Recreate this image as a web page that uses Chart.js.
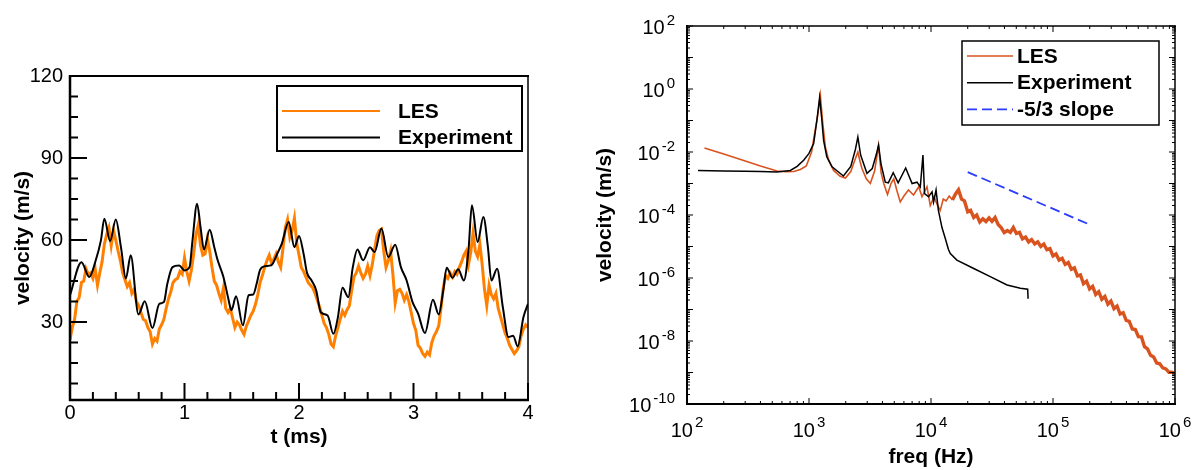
<!DOCTYPE html>
<html>
<head>
<meta charset="utf-8">
<title>LES vs experiment velocity</title>
<script src="https://cdn.jsdelivr.net/npm/chart.js@4.4.1/dist/chart.umd.min.js"></script>
<style>
  body { margin: 0; background: #fff; }
  #wrap { position: relative; width: 1198px; height: 470px; overflow: hidden; }
  canvas { position: absolute; top: 0; }
  #timeChart { left: 0; }
  #specChart { left: 560px; }
</style>
</head>
<body>
<div id="wrap">
  <canvas id="timeChart" width="560" height="470"></canvas>
  <canvas id="specChart" width="638" height="470"></canvas>
</div>
<script>
// ---- left panel: velocity signal ----
const timeTickLabels = [0, 1, 2, 3, 4];
const velTickLabels = [30, 60, 90, 120];

const lesTime = [
  0.00,0.02,0.04,0.06,0.08,0.10,0.12,0.14,0.16,0.18,
  0.20,0.22,0.24,0.26,0.28,0.30,0.32,0.34,0.36,0.38,
  0.40,0.42,0.44,0.46,0.48,0.50,0.52,0.54,0.56,0.58,
  0.60,0.62,0.64,0.66,0.68,0.70,0.72,0.74,0.76,0.78,
  0.80,0.82,0.84,0.86,0.88,0.90,0.92,0.94,0.96,0.98,
  1.00,1.02,1.04,1.06,1.08,1.10,1.12,1.14,1.16,1.18,
  1.20,1.22,1.24,1.26,1.28,1.30,1.32,1.34,1.36,1.38,
  1.40,1.42,1.44,1.46,1.48,1.50,1.52,1.54,1.56,1.58,
  1.60,1.62,1.64,1.66,1.68,1.70,1.72,1.74,1.76,1.78,
  1.80,1.82,1.84,1.86,1.88,1.90,1.92,1.94,1.96,1.98,
  2.00,2.02,2.04,2.06,2.08,2.10,2.12,2.14,2.16,2.18,
  2.20,2.22,2.24,2.26,2.28,2.30,2.32,2.34,2.36,2.38,
  2.40,2.42,2.44,2.46,2.48,2.50,2.52,2.54,2.56,2.58,
  2.60,2.62,2.64,2.66,2.68,2.70,2.72,2.74,2.76,2.78,
  2.80,2.82,2.84,2.86,2.88,2.90,2.92,2.94,2.96,2.98,
  3.00,3.02,3.04,3.06,3.08,3.10,3.12,3.14,3.16,3.18,
  3.20,3.22,3.24,3.26,3.28,3.30,3.32,3.34,3.36,3.38,
  3.40,3.42,3.44,3.46,3.48,3.50,3.52,3.54,3.56,3.58,
  3.60,3.62,3.64,3.66,3.68,3.70,3.72,3.74,3.76,3.78,
  3.80,3.82,3.84,3.86,3.88,3.90,3.92,3.94,3.96,3.98,
  4.00
];
const lesVelocity = [
  23.5,28.0,31.0,37.5,39.0,44.5,45.0,49.5,47.5,48.0,
  46.0,49.5,43.5,48.0,52.0,58.5,62.0,64.5,58.0,63.5,
  60.0,56.0,52.5,48.0,45.5,43.0,44.5,40.5,42.0,37.5,
  36.0,33.5,31.0,30.5,28.0,26.5,22.0,24.0,23.0,27.5,
  29.0,31.0,35.0,38.5,41.0,44.5,45.5,46.0,48.5,47.5,
  53.5,48.5,45.0,49.0,55.0,62.0,65.5,58.0,54.5,55.0,
  60.5,56.0,50.0,45.0,43.5,40.5,38.0,42.5,35.0,33.5,
  35.0,31.5,28.0,30.0,29.0,27.0,25.5,28.5,30.5,32.5,
  34.0,36.5,40.0,44.5,47.0,50.0,52.5,54.5,51.5,53.0,
  55.0,52.0,50.0,57.0,64.5,67.5,61.0,63.5,68.0,59.0,
  54.5,50.0,48.5,46.5,44.5,43.5,42.5,40.5,38.0,35.5,
  32.5,29.5,28.0,25.5,22.0,21.0,25.0,28.0,31.0,34.0,
  32.5,34.5,36.0,41.5,46.5,48.0,50.5,48.0,46.0,47.5,
  50.5,47.0,51.0,56.5,61.5,63.5,64.0,56.0,50.0,52.5,
  56.0,47.5,37.0,41.5,42.0,40.5,38.0,40.0,37.5,33.5,
  29.5,27.0,21.5,20.5,18.5,17.5,19.0,18.0,22.5,25.0,
  26.5,28.5,35.0,42.5,47.0,46.0,48.0,46.5,48.5,47.5,
  50.0,52.0,54.5,56.0,51.0,55.5,62.5,56.0,54.0,58.5,
  51.0,42.0,36.0,43.5,40.0,38.5,40.5,35.0,32.0,29.0,
  26.0,24.0,21.5,20.0,18.5,19.5,21.0,25.0,27.5,29.0,
  28.0
];

const expTime = [
  0,0.1,0.168,0.225,0.27,0.3,0.35,0.4,0.445,0.488,
  0.53,0.598,0.653,0.72,0.78,0.82,0.85,0.895,0.954,1.0,
  1.044,1.07,1.11,1.14,1.17,1.22,1.26,1.29,1.34,1.38,
  1.41,1.45,1.51,1.56,1.6,1.63,1.66,1.7,1.76,1.81,
  1.85,1.91,1.96,2.0,2.04,2.07,2.11,2.15,2.19,2.25,
  2.3,2.34,2.38,2.43,2.47,2.51,2.56,2.62,2.66,2.72,
  2.78,2.84,2.89,2.94,2.99,3.04,3.1,3.17,3.22,3.26,
  3.29,3.34,3.39,3.44,3.48,3.51,3.56,3.61,3.65,3.68,
  3.73,3.78,3.83,3.87,3.91,3.96,4.0
];
const expVelocity = [
  39.8,51.9,46.5,52.6,59.9,67.8,59.6,67.5,57.4,45.9,
  54.4,32.8,37.6,27.8,36.7,37.3,44.0,50.1,50.7,48.9,
  50.1,59.9,73.3,64.7,56.5,63.8,57.4,52.6,46.5,39.1,
  34.3,39.4,28.8,39.8,40.1,44.0,49.1,50.4,50.8,55.0,
  58.7,66.6,57.4,61.5,55.0,48.0,45.2,41.6,33.6,32.4,
  25.7,31.8,42.6,39.1,50.1,56.5,52.6,57.4,55.6,64.2,
  53.8,58.3,50.1,45.2,37.5,33.1,26.0,38.2,32.8,41.6,
  49.9,46.2,49.3,45.2,56.2,72.7,59.3,68.4,57.4,45.2,
  49.5,35.5,24.5,25.0,21.1,31.8,36.7
];

// ---- right panel: spectrum ----
const freqExponents = [2, 3, 4, 5, 6];
const specExponents = [2, 0, -2, -4, -6, -8, -10];

const lesFreq = [
  139,200,300,400,547,650,750,850,950,1050,
  1100,1180,1239,1290,1361,1450,1590,1800,1990,2200,
  2325,2515,2620,2717,2950,3180,3450,3715,3900,4100,
  4400,4700,4950,5250,5600,6000,6530,7190,7940,8440,
  9270,9860,
  10600,11200,11900,12600,13300,14100,15000,15800,16800,17800,
  18800,20000,21100,22400,23700,25100,26600,28200,29900,31600,
  33500,35500,37600,39800,42200,44700,47300,50100,53100,56200,
  59600,63100,66800,70800,75000,79400,84100,89100,94400,100000,
  105900,112200,118900,125900,133400,141300,149600,158500,167900,177800,
  188400,199500,211300,223900,237100,251200,266100,281800,298500,316200,
  335000,354800,375800,398100,421700,446700,473200,501200,530900,562300,
  595700,631000,668300,707900,749900,794300,841400,891300,944100,1000000
];
const lesSpectrum = [
  1.35e-2,8.6e-3,5.2e-3,3.6e-3,2.5e-3,2.35e-3,2.4e-3,2.8e-3,3.6e-3,1.0e-2,
  3.0e-2,0.15,0.63,0.1,1.45e-2,5.5e-3,2.6e-3,1.7e-3,1.5e-3,2.4e-3,
  4.4e-3,1.0e-2,5.0e-3,3.0e-3,1.4e-3,1.0e-3,2.5e-3,1.58e-2,2.2e-3,1.0e-3,
  4.5e-4,1.0e-3,1.4e-3,6.0e-4,2.6e-4,4.0e-4,6.2e-4,4.3e-4,7.9e-4,3.8e-4,
  7.9e-4,2.0e-4,
  3.8e-4,2.2e-4,1.4e-4,3.2e-4,2.8e-4,4.0e-4,3.0e-4,4.5e-4,6.3e-4,3.2e-4,
  2.8e-4,1.26e-4,1.4e-4,8.3e-5,1.0e-4,6.0e-5,7.6e-5,6.2e-5,8.1e-5,6.3e-5,
  8.3e-5,5.0e-5,4.0e-5,2.75e-5,3.2e-5,2.8e-5,4.0e-5,2.6e-5,2.8e-5,1.74e-5,
  2.0e-5,1.4e-5,1.66e-5,1.2e-5,1.4e-5,1.0e-5,1.2e-5,7.9e-6,8.5e-6,5.0e-6,
  5.8e-6,3.7e-6,4.2e-6,2.7e-6,3.1e-6,1.9e-6,2.1e-6,1.17e-6,1.26e-6,6.6e-7,
  7.9e-7,4.5e-7,5.4e-7,3.0e-7,3.7e-7,2.1e-7,2.6e-7,1.48e-7,1.86e-7,1.07e-7,
  1.29e-7,7.2e-8,7.9e-8,4.5e-8,4.2e-8,2.4e-8,2.3e-8,1.38e-8,1.35e-8,6.6e-9,
  5.6e-9,3.5e-9,3.1e-9,2.0e-9,1.9e-9,1.4e-9,1.3e-9,1.02e-9,1.02e-9,9.3e-10
];

const expFreq = [
  123,200,300,400,547,703,800,904,1000,1092,
  1160,1222,1270,1318,1400,1545,1915,2200,2400,2515,
  2650,2985,3300,3550,3715,3900,4220,4470,4900,5380,
  6200,7000,7680,8170,8590,8850,9550,10200,10500,11000,
  11500,12300,13100,13900,14400,16300,22400,30600,42000,54000,
  62000,62500
];
const expSpectrum = [
  2.6e-3,2.5e-3,2.45e-3,2.4e-3,2.3e-3,2.6e-3,3.5e-3,5.5e-3,9e-3,1.86e-2,
  0.1,0.54,0.12,2.3e-2,7e-3,3.4e-3,1.73e-3,3.5e-3,1.2e-2,3e-2,
  8e-3,2.1e-3,3e-3,8e-3,1.65e-2,4e-3,1.1e-3,1.05e-3,2.2e-3,1.05e-3,
  3.1e-3,1e-3,1.1e-3,7.8e-4,8e-3,4.8e-4,3.8e-4,5.4e-4,2.6e-4,6.2e-4,
  1.4e-4,4e-5,1.8e-5,8e-6,6e-6,3.7e-6,2.0e-6,1.1e-6,6e-7,4.7e-7,
  4.4e-7,2.2e-7
];

const slopeFreq = [20000, 200000];
const slopeSpectrum = [2.3e-3, 4.95e-5];

// ---- shared bits ----
const FAMILY = '"Liberation Sans", Arial, Helvetica, sans-serif';
const tickFont = '20px ' + FAMILY;
const expFont = '15px ' + FAMILY;
const boldFont = 'bold 21px ' + FAMILY;
Chart.defaults.font.family = FAMILY;
Chart.defaults.color = '#000';

function pairs(xs, ys) {
  return xs.map((x, i) => ({ x: x, y: ys[i] }));
}

function linearTicks(scale, majors, step, major, minor) {
  const out = [];
  for (let v = Math.ceil(scale.min / step - 1e-9) * step; v <= scale.max + 1e-9; v += step) {
    const isMajor = majors.some(m => Math.abs(m - v) < 1e-6);
    out.push([v, isMajor ? major : minor]);
  }
  return out;
}

function logTicks(scale, major, minor) {
  const out = [];
  const lo = Math.floor(Math.log10(scale.min));
  const hi = Math.ceil(Math.log10(scale.max));
  for (let e = lo; e <= hi; e++) {
    for (let k = 1; k <= 9; k++) {
      const v = k * Math.pow(10, e);
      if (v >= scale.min * 0.999 && v <= scale.max * 1.001) out.push([v, k === 1 ? major : minor]);
    }
  }
  return out;
}

// inward tick marks + plot frame (tecplot look)
const framePlugin = {
  id: 'frame',
  afterDatasetsDraw(chart, args, o) {
    const { ctx, chartArea: a } = chart;
    const x = chart.scales.x, y = chart.scales.y;
    const xt = o.log ? logTicks(x, o.major, o.minor) : linearTicks(x, o.xMajors, o.xStep, o.major, o.minor);
    const yt = o.log ? logTicks(y, o.major, o.minor) : linearTicks(y, o.yMajors, o.yStep, o.major, o.minor);
    ctx.save();
    ctx.strokeStyle = '#000';
    ctx.lineWidth = o.tickWidth;
    ctx.beginPath();
    xt.forEach(([v, len]) => {
      const p = x.getPixelForValue(v);
      ctx.moveTo(p, a.bottom); ctx.lineTo(p, a.bottom - len);
      if (o.mirror) { ctx.moveTo(p, a.top); ctx.lineTo(p, a.top + len); }
    });
    yt.forEach(([v, len]) => {
      const p = y.getPixelForValue(v);
      ctx.moveTo(a.left, p); ctx.lineTo(a.left + len, p);
      if (o.mirror) { ctx.moveTo(a.right, p); ctx.lineTo(a.right - len, p); }
    });
    ctx.stroke();
    const edge = (w, x1, y1, x2, y2) => {
      ctx.lineWidth = w;
      ctx.beginPath(); ctx.moveTo(x1, y1); ctx.lineTo(x2, y2); ctx.stroke();
    };
    edge(o.top, a.left - 1, a.top, a.right + 1, a.top);
    edge(o.right, a.right, a.top, a.right, a.bottom);
    edge(o.left, a.left, a.top - 1, a.left, a.bottom + 1);
    edge(o.bottom, a.left - 1, a.bottom, a.right + 1, a.bottom);
    ctx.restore();
  }
};

// boxed legend placed inside the plot
const boxLegend = {
  id: 'boxLegend',
  afterDraw(chart, args, o) {
    const ctx = chart.ctx;
    ctx.save();
    ctx.fillStyle = '#fff';
    ctx.fillRect(o.x, o.y, o.w, o.h);
    ctx.lineWidth = o.border;
    ctx.strokeStyle = '#000';
    ctx.strokeRect(o.x, o.y, o.w, o.h);
    chart.data.datasets.forEach((ds, i) => {
      const cy = o.y + o.firstRow + i * o.rowGap;
      ctx.beginPath();
      ctx.setLineDash(ds.borderDash || []);
      ctx.strokeStyle = ds.borderColor;
      ctx.lineWidth = o.lineWidth;
      ctx.moveTo(o.x + o.lineStart, cy);
      ctx.lineTo(o.x + o.lineEnd, cy);
      ctx.stroke();
      ctx.setLineDash([]);
      ctx.fillStyle = '#000';
      ctx.font = boldFont;
      ctx.textAlign = 'left';
      ctx.textBaseline = 'middle';
      ctx.fillText(ds.label, o.x + o.textStart, cy + 1);
    });
    ctx.restore();
  }
};

// 10^n labels for the log axes
const powerLabels = {
  id: 'powerLabels',
  afterDraw(chart) {
    const { ctx, chartArea: a } = chart;
    const x = chart.scales.x, y = chart.scales.y;
    ctx.save();
    ctx.fillStyle = '#000';
    ctx.textBaseline = 'middle';
    ctx.textAlign = 'left';
    freqExponents.forEach(e => {
      const p = x.getPixelForValue(Math.pow(10, e));
      ctx.font = tickFont; const w1 = ctx.measureText('10').width;
      ctx.font = expFont; const w2 = ctx.measureText(String(e)).width;
      const x0 = p - (w1 + 2 + w2) / 2;
      ctx.font = tickFont; ctx.fillText('10', x0, a.bottom + 27);
      ctx.font = expFont; ctx.fillText(String(e), x0 + w1 + 2, a.bottom + 19);
    });
    specExponents.forEach(e => {
      const p = y.getPixelForValue(Math.pow(10, e));
      ctx.font = expFont; const w2 = ctx.measureText(String(e)).width;
      ctx.font = tickFont; const w1 = ctx.measureText('10').width;
      const xr = a.left - 12;
      ctx.fillText('10', xr - w2 - 2 - w1, p + 2);
      ctx.font = expFont; ctx.fillText(String(e), xr - w2, p - 5);
    });
    ctx.restore();
  }
};

// ---- left chart ----
new Chart(document.getElementById('timeChart'), {
  type: 'line',
  data: {
    datasets: [
      { label: 'LES', data: pairs(lesTime, lesVelocity), borderColor: '#ff8000',
        borderWidth: 3, borderJoinStyle: 'miter', pointRadius: 0, tension: 0, order: 1 },
      { label: 'Experiment', data: pairs(expTime, expVelocity), borderColor: '#000',
        borderWidth: 2, pointRadius: 0, cubicInterpolationMode: 'monotone', order: 0 }
    ]
  },
  options: {
    responsive: false,
    animation: false,
    events: [],
    layout: { padding: { top: 76, right: 32, left: 0, bottom: 0 } },
    plugins: {
      legend: { display: false },
      tooltip: { enabled: false },
      frame: { log: false, xMajors: timeTickLabels, yMajors: velTickLabels, xStep: 0.2, yStep: 7.5,
               major: 17, minor: 8, tickWidth: 2, mirror: false,
               left: 2.5, bottom: 2.5, top: 2, right: 1.5 },
      boxLegend: { x: 277, y: 86, w: 245, h: 65, border: 2, firstRow: 25, rowGap: 26.6,
                   lineStart: 5, lineEnd: 103, textStart: 121, lineWidth: 2 }
    },
    scales: {
      x: {
        type: 'linear', min: 0, max: 4,
        afterBuildTicks: s => { s.ticks = timeTickLabels.map(v => ({ value: v })); },
        afterFit: s => { s.height = 70; },
        grid: { display: false, drawTicks: false },
        border: { display: false },
        ticks: { padding: 1, font: { size: 20 }, color: '#000', maxRotation: 0 },
        title: { display: true, text: 't (ms)', font: { size: 21, weight: 'bold' }, color: '#000',
                 padding: { top: 0, bottom: 20 } }
      },
      y: {
        type: 'linear', min: 1.5, max: 120,
        afterBuildTicks: s => { s.ticks = velTickLabels.map(v => ({ value: v })); },
        afterFit: s => { s.width = 70; },
        grid: { display: false, drawTicks: false },
        border: { display: false },
        ticks: { padding: 7, font: { size: 20 }, color: '#000' },
        title: { display: true, text: 'velocity (m/s)', font: { size: 21, weight: 'bold' }, color: '#000',
                 padding: { top: 11, bottom: 0 } }
      }
    }
  },
  plugins: [framePlugin, boxLegend]
});

// ---- right chart ----
new Chart(document.getElementById('specChart'), {
  type: 'line',
  data: {
    datasets: [
      { label: 'LES', data: pairs(lesFreq, lesSpectrum), borderColor: '#d9531e',
        borderWidth: 1.6, pointRadius: 0, tension: 0, order: 1,
        // the resolved broadband part reads as a thick noisy band
        segment: { borderWidth: c => (c.p0.parsed.x >= 15000 ? 3.4 : 1.6) } },
      { label: 'Experiment', data: pairs(expFreq, expSpectrum), borderColor: '#000',
        borderWidth: 1.5, pointRadius: 0, tension: 0, order: 0 },
      { label: '-5/3 slope', data: pairs(slopeFreq, slopeSpectrum), borderColor: '#2a3cff',
        borderWidth: 1.8, borderDash: [10, 5], pointRadius: 0, order: 0 }
    ]
  },
  options: {
    responsive: false,
    animation: false,
    events: [],
    layout: { padding: { top: 26, right: 23, left: 0, bottom: 0 } },
    plugins: {
      legend: { display: false },
      tooltip: { enabled: false },
      frame: { log: true, major: 6, minor: 3, tickWidth: 1, mirror: true,
               left: 2, bottom: 2, top: 1.5, right: 1.5 },
      boxLegend: { x: 402, y: 41, w: 197, h: 84, border: 1.5, firstRow: 15, rowGap: 26.7,
                   lineStart: 5, lineEnd: 51, textStart: 55, lineWidth: 1.6 }
    },
    scales: {
      x: {
        type: 'logarithmic', min: 100, max: 1e6,
        afterFit: s => { s.height = 66; },
        grid: { display: false, drawTicks: false },
        border: { display: false },
        ticks: { display: false },
        title: { display: true, text: 'freq (Hz)', font: { size: 21, weight: 'bold' }, color: '#000',
                 padding: { top: 0, bottom: 0 } }
      },
      y: {
        type: 'logarithmic', min: 1e-10, max: 100,
        afterFit: s => { s.width = 127; },
        grid: { display: false, drawTicks: false },
        border: { display: false },
        ticks: { display: false },
        title: { display: true, text: 'velocity (m/s)', font: { size: 21, weight: 'bold' }, color: '#000',
                 padding: { top: 33, bottom: 0 } }
      }
    }
  },
  plugins: [framePlugin, boxLegend, powerLabels]
});
</script>
</body>
</html>
